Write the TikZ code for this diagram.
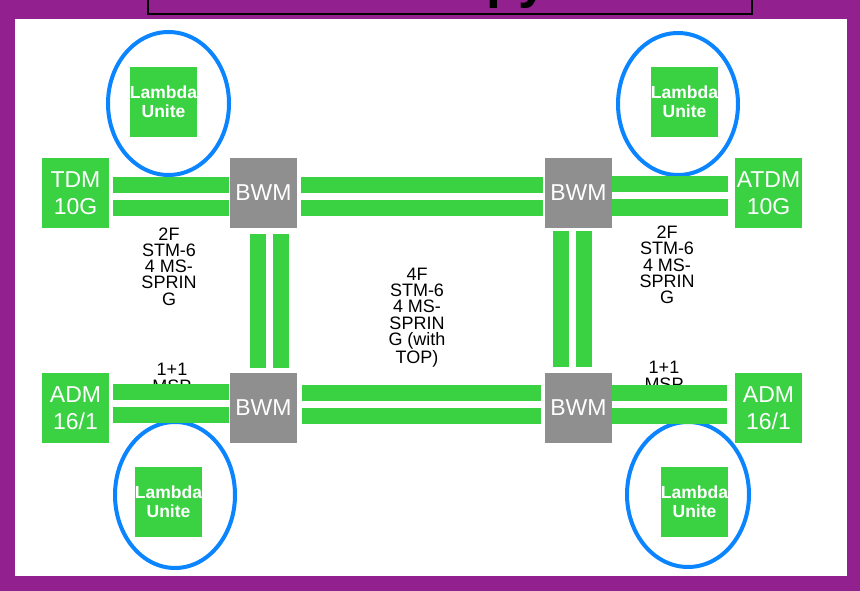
\documentclass[tikz,border=0pt]{standalone}
\usepackage{fontspec}
\setmainfont{Liberation Sans}
\usetikzlibrary{shapes.geometric}
\definecolor{framepurple}{RGB}{146,32,143}
\definecolor{grn}{RGB}{58,209,67}
\definecolor{gry}{RGB}{143,143,143}
\definecolor{blu}{RGB}{10,132,255}
\begin{document}
\begin{tikzpicture}[x=1pt,y=-1pt,
 box/.style={fill=grn, minimum width=67pt, minimum height=70pt, inner sep=0pt, text=white, align=center, font=\fontsize{23}{27}\selectfont},
 bwm/.style={box, fill=gry},
 lam/.style={box, font=\bfseries\fontsize{17.5}{19}\selectfont},
 ring/.style={ellipse, draw=blu, line width=4pt, inner sep=0pt},
 lbl/.style={align=center, inner sep=0pt, font=\fontsize{18}{16.3}\selectfont},
 pair/.style={draw=grn, line width=16pt, double=white, double distance=7pt}]
\useasboundingbox (0,0) rectangle (860,591);
\clip (0,0) rectangle (860,591);
% frame
\fill[framepurple] (0,0) rectangle (860,591);
\fill[white] (15,19) rectangle (847,576);
% title box (cut off)
\draw[line width=1.8pt] (148,-30) rectangle (752,14);
\node[anchor=base west, inner sep=0pt, font=\bfseries\fontsize{53}{60}\selectfont] (title) at (486,-2) {py};
% rings
\node[ring, minimum width=121pt, minimum height=143pt] (r1) at (168.5,103.5) {};
\node[ring, minimum width=120pt, minimum height=142pt] (r2) at (678,104) {};
\node[ring, minimum width=120pt, minimum height=146pt] (r3) at (175,495) {};
\node[ring, minimum width=122pt, minimum height=145pt] (r4) at (688,494.5) {};
% lambda units
\node[lam] (l1) at (163.5,102) {Lambda\\Unite};
\node[lam] (l2) at (684.5,102) {Lambda\\Unite};
\node[lam] (l3) at (168.5,502) {Lambda\\Unite};
\node[lam] (l4) at (694.5,502) {Lambda\\Unite};
% labels
\node[lbl] (t1) at (169,266.5) {2F\\STM-6\\4 MS-\\SPRIN\\G};
\node[lbl] (t2) at (667,265) {2F\\STM-6\\4 MS-\\SPRIN\\G};
\node[lbl] (t3) at (417,317.5) {4F\\STM-6\\4 MS-\\SPRIN\\G (with\\TOP)};
\node[lbl] (t4) at (172,378) {1+1\\MSP};
\node[lbl] (t5) at (664,376) {1+1\\MSP};
% main nodes
\node[box] (tdm) at (75.5,193) {TDM\\10G};
\node[bwm] (bwmA) at (263.5,193) {BWM};
\node[bwm] (bwmB) at (578.5,193) {BWM};
\node[box] (atdm) at (768.5,193) {ATDM\\10G};
\node[box] (adml) at (75.5,408) {ADM\\16/1};
\node[bwm] (bwmC) at (263.5,408) {BWM};
\node[bwm] (bwmD) at (578.5,408) {BWM};
\node[box] (admr) at (768.5,408) {ADM\\16/1};
% links
\draw[pair, shorten <=4pt, shorten >=1pt] ([yshift=-3.5pt]tdm.east) -- ([yshift=-3.5pt]bwmA.west);
\draw[pair, shorten <=4pt, shorten >=2pt] ([yshift=-3.5pt]bwmA.east) -- ([yshift=-3.5pt]bwmB.west);
\draw[pair, shorten <=0pt, shorten >=7pt] ([yshift=-3pt]bwmB.east) -- ([yshift=-3pt]atdm.west);
\draw[pair, shorten <=6pt, shorten >=5pt] ([xshift=5.5pt]bwmA.south) -- ([xshift=5.5pt]bwmC.north);
\draw[pair, shorten <=3pt, shorten >=6pt] ([xshift=-6.5pt]bwmB.south) -- ([xshift=-6.5pt]bwmD.north);
\draw[pair, shorten <=4pt, shorten >=1pt] ([yshift=4.5pt]adml.east) -- ([yshift=4.5pt]bwmC.west);
\draw[pair, shorten <=5pt, shorten >=4pt] ([yshift=4pt]bwmC.east) -- ([yshift=4pt]bwmD.west);
\draw[pair, shorten <=0pt, shorten >=8pt] ([yshift=4pt]bwmD.east) -- ([yshift=4pt]admr.west);
\end{tikzpicture}
\end{document}
